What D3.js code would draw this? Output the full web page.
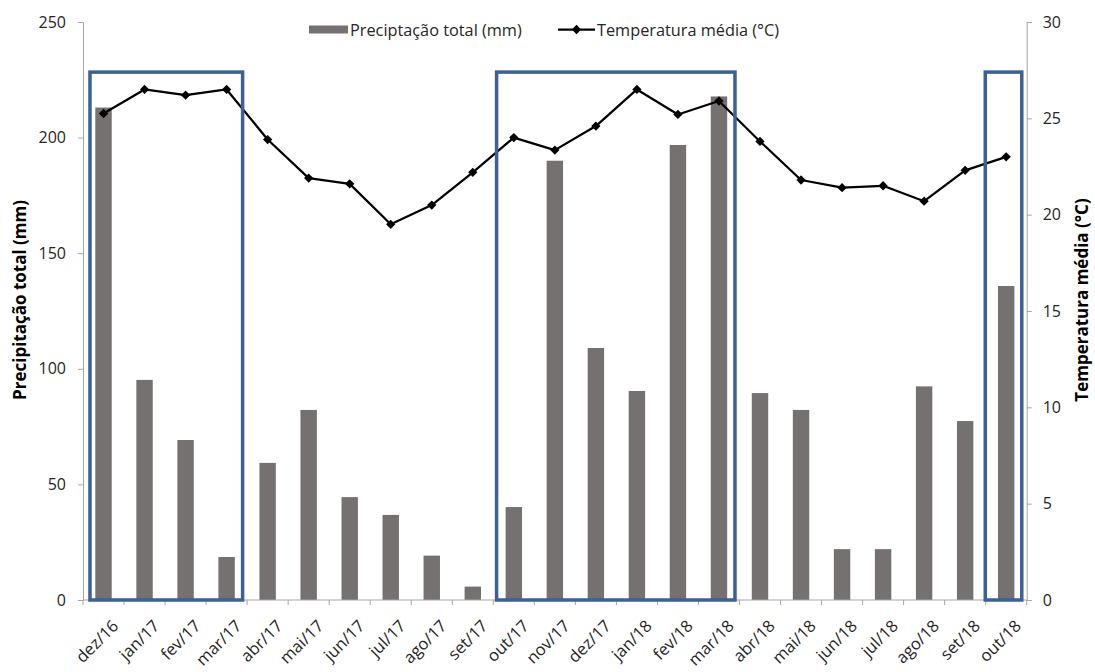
<!DOCTYPE html>
<html>
<head>
<meta charset="utf-8">
<script src="https://cdn.jsdelivr.net/npm/d3@7"></script>
<style>
  html, body { margin: 0; padding: 0; background: #fff; }
  svg { display: block; font-family: "Open Sans", "Noto Sans", sans-serif; }
</style>
</head>
<body>
<svg id="chart" width="1095" height="672"></svg>
<script>
const months = ["dez/16","jan/17","fev/17","mar/17","abr/17","mai/17","jun/17","jul/17","ago/17","set/17",
  "out/17","nov/17","dez/17","jan/18","fev/18","mar/18","abr/18","mai/18","jun/18","jul/18","ago/18","set/18","out/18"];
const precipitation = [213, 95.2, 69.2, 18.6, 59.3, 82.2, 44.5, 36.8, 19.2, 5.8,
  40.2, 190, 109, 90.4, 196.8, 217.8, 89.5, 82.2, 22, 22, 92.4, 77.4, 135.8];
const temperature = [25.25, 26.5, 26.2, 26.5, 23.9, 21.9, 21.6, 19.5, 20.5, 22.2,
  24.0, 23.35, 24.6, 26.5, 25.2, 25.9, 23.8, 21.8, 21.4, 21.5, 20.7, 22.3, 23.0];
const precipTicks = [0, 50, 100, 150, 200, 250];
const tempTicks = [0, 5, 10, 15, 20, 25, 30];
// highlighted periods, in month-slot units along the category axis (start, end)
const periods = [[0.17, 3.89], [10.08, 15.89], [21.99, 22.88]];
const periodTop = 27.4; // in °C on the right axis
const legendLabels = ["Preciptação total (mm)", "Temperatura média (°C)"];
const titleLeft = "Precipitação total (mm)";
const titleRight = "Temperatura média (°C)";

const svg = d3.select("#chart");
const L = 83, R = 1026.7, T = 22, B = 600;
const axisColor = "#a6a6a6", textColor = "#262626";

const x = d3.scaleBand().domain(months).range([L, R]).padding(0);
const xSlot = d3.scaleLinear().domain([0, months.length]).range([L, R]);
const yP = d3.scaleLinear().domain([0, 250]).range([B, T]);
const yT = d3.scaleLinear().domain([0, 30]).range([B, T]);
const bw = x.bandwidth();

// bars
svg.append("g").selectAll("rect").data(months).join("rect")
  .attr("x", (d) => x(d) + bw * 0.3)
  .attr("width", bw * 0.4)
  .attr("y", (d, i) => yP(precipitation[i]))
  .attr("height", (d, i) => B - yP(precipitation[i]))
  .attr("fill", "#767171");

// left axis
const gl = svg.append("g").attr("transform", `translate(${L},0)`)
  .call(d3.axisLeft(yP).tickValues(precipTicks).tickSize(5).tickPadding(12).tickFormat(d3.format("d")));
gl.selectAll("path,line").attr("stroke", axisColor);
gl.selectAll("text").attr("font-size", 16).attr("fill", textColor).attr("font-family", "Open Sans");

// right axis
const gr = svg.append("g").attr("transform", `translate(${R},0)`)
  .call(d3.axisRight(yT).tickValues(tempTicks).tickSize(5).tickPadding(11).tickFormat(d3.format("d")));
gr.selectAll("path,line").attr("stroke", axisColor);
gr.selectAll("text").attr("font-size", 16).attr("fill", textColor).attr("font-family", "Open Sans");

// bottom axis (ticks at category boundaries)
const gb = svg.append("g");
gb.append("line").attr("x1", L).attr("x2", R).attr("y1", B).attr("y2", B).attr("stroke", axisColor);
const bounds = months.map((m) => x(m)).concat([R]);
gb.selectAll("line.tk").data(bounds).join("line").attr("class", "tk")
  .attr("x1", (d) => d).attr("x2", (d) => d).attr("y1", B).attr("y2", B + 5).attr("stroke", axisColor);
gb.selectAll("text").data(months).join("text")
  .attr("transform", (d) => `translate(${x(d) + bw / 2 + 16},${B + 27}) rotate(-45)`)
  .attr("text-anchor", "end")
  .attr("font-size", 16.5).attr("fill", textColor)
  .text((d) => d);

// temperature line
const line = d3.line().x((d, i) => x(months[i]) + bw / 2).y((d) => yT(d));
svg.append("path").datum(temperature).attr("d", line)
  .attr("fill", "none").attr("stroke", "#000").attr("stroke-width", 2.25).attr("stroke-linejoin", "round");
const diamond = d3.symbol().type(d3.symbolDiamond2).size(55);
svg.append("g").selectAll("path").data(temperature).join("path")
  .attr("d", diamond)
  .attr("transform", (d, i) => `translate(${x(months[i]) + bw / 2},${yT(d)})`)
  .attr("fill", "#000");

// highlighted periods
svg.append("g").selectAll("rect").data(periods).join("rect")
  .attr("x", (d) => xSlot(d[0]))
  .attr("y", yT(periodTop))
  .attr("width", (d) => xSlot(d[1]) - xSlot(d[0]))
  .attr("height", B - yT(periodTop))
  .attr("fill", "none").attr("stroke", "#3B6196").attr("stroke-width", 3.5);

// axis titles
svg.append("text").attr("transform", `translate(26,300) rotate(-90)`)
  .attr("text-anchor", "middle").attr("font-size", 17).attr("font-weight", "bold").attr("fill", "#000")
  .text(titleLeft);
svg.append("text").attr("transform", `translate(1088,300) rotate(-90)`)
  .attr("text-anchor", "middle").attr("font-size", 17).attr("font-weight", "bold").attr("fill", "#000")
  .text(titleRight);

// legend
const lg = svg.append("g");
lg.append("rect").attr("x", 309).attr("y", 25.5).attr("width", 39).attr("height", 8).attr("fill", "#767171");
lg.append("text").attr("x", 350).attr("y", 35.5).attr("font-size", 16.3).attr("fill", textColor).text(legendLabels[0]);
lg.append("line").attr("x1", 558).attr("x2", 595).attr("y1", 29.5).attr("y2", 29.5).attr("stroke", "#000").attr("stroke-width", 2.25);
lg.append("path").attr("d", diamond).attr("transform", "translate(576.5,29.5)").attr("fill", "#000");
lg.append("text").attr("x", 597).attr("y", 35.5).attr("font-size", 16.3).attr("fill", textColor).text(legendLabels[1]);
</script>
</body>
</html>
